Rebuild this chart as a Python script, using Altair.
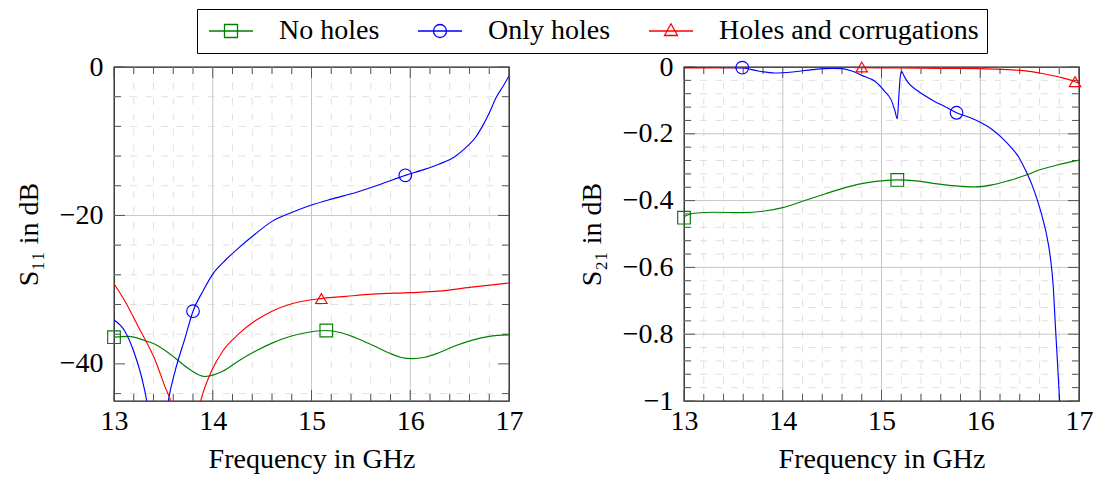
import altair as alt
import pandas as pd

FONT = "Liberation Serif"
FS = 28
SERIES = ["No holes", "Only holes", "Holes and corrugations"]
COLORS = ["#008000", "#0000ff", "#ff0000"]
MARKERS = ["square", "circle", "triangle-up"]
MARKER_SIZES = [160, 160, 130]
# legend symbols: a line with the marker drawn on it (unit = 10 px at size 400)
LEGEND_SHAPES = [
    "M-1,0H3.4M0.55,-0.65H1.85V0.65H0.55Z",
    "M-1,0H3.4M0.55,0A0.65,0.65,0,1,1,1.85,0A0.65,0.65,0,1,1,0.55,0Z",
    "M-1,0H3.4M1.2,-0.72L1.85,0.45H0.55Z",
]

# ---------------- S11 (left panel) ----------------
s11_green_x = [13.0, 13.15, 13.3, 13.42, 13.59, 13.75, 13.92, 14.1, 14.26, 14.43, 14.6, 14.78,
               14.94, 15.14, 15.3, 15.45, 15.62, 15.78, 15.9, 16.02, 16.15, 16.29, 16.45, 16.63,
               16.8, 17.0]
s11_green_y = [-36.4, -36.3, -36.8, -37.4, -38.9, -40.6, -41.7, -41.0, -39.6, -38.3, -37.2, -36.3,
               -35.8, -35.5, -35.8, -36.5, -37.5, -38.5, -39.1, -39.3, -39.1, -38.5, -37.6, -36.8,
               -36.3, -36.1]
s11_blue_x = [13.0, 13.11, 13.21, 13.28, 13.33, 13.38, 13.44, 13.5, 13.55, 13.62, 13.72, 13.8,
              13.9, 14.0, 14.13, 14.26, 14.43, 14.6, 14.8, 15.0, 15.2, 15.45, 15.7, 15.95, 16.12,
              16.29, 16.45, 16.56, 16.66, 16.73, 16.8, 16.87, 16.94, 17.0]
s11_blue_y = [-34.1, -35.6, -38.7, -41.8, -44.9, -50.0, -62.0, -50.0, -45.0, -40.9, -36.5, -32.9,
              -30.2, -27.9, -26.0, -24.4, -22.5, -20.8, -19.6, -18.6, -17.8, -16.9, -15.8, -14.6,
              -13.9, -13.1, -12.1, -10.9, -9.5, -8.0, -6.2, -4.1, -2.6, -1.2]
s11_red_x = [13.0, 13.1, 13.25, 13.42, 13.52, 13.57, 13.64, 13.72, 13.8, 13.88, 13.99, 14.1,
             14.26, 14.43, 14.6, 14.8, 15.1, 15.35, 15.62, 16.0, 16.29, 16.6, 17.0]
s11_red_y = [-29.2, -31.3, -35.1, -39.6, -43.2, -44.9, -50.0, -60.0, -50.0, -44.9, -40.9, -38.3,
             -36.0, -34.2, -32.9, -31.9, -31.2, -30.9, -30.6, -30.4, -30.2, -29.7, -29.1]
s11_mark_series = ["No holes", "No holes", "Only holes", "Only holes", "Holes and corrugations"]
s11_mark_x = [13.0, 15.15, 13.8, 15.95, 15.1]
s11_mark_y = [-36.4, -35.5, -32.9, -14.6, -31.2]

# ---------------- S21 (right panel) ----------------
s21_green_x = [13.0, 13.1, 13.3, 13.6, 13.8, 14.0, 14.2, 14.42, 14.6, 14.8, 15.0, 15.16, 15.35,
               15.54, 15.75, 15.95, 16.12, 16.28, 16.45, 16.62, 16.8, 17.0]
s21_green_y = [-0.448, -0.438, -0.435, -0.436, -0.432, -0.421, -0.402, -0.381, -0.364, -0.349,
               -0.341, -0.338, -0.341, -0.349, -0.356, -0.359, -0.353, -0.341, -0.325, -0.306,
               -0.292, -0.279]
s21_blue_x = [13.0, 13.2, 13.4, 13.59, 13.75, 13.92, 14.1, 14.3, 14.5, 14.6, 14.7, 14.8, 14.93,
              15.03, 15.1, 15.135, 15.16, 15.175, 15.19, 15.205, 15.23, 15.27, 15.37, 15.52,
              15.65, 15.76, 15.9, 16.01, 16.12, 16.22, 16.31, 16.39, 16.46, 16.52, 16.58, 16.62,
              16.67, 16.71, 16.74, 16.76, 16.785, 16.8, 16.83]
s21_blue_y = [-0.001, -0.001, -0.002, -0.003, -0.012, -0.018, -0.015, -0.008, -0.004, -0.005,
              -0.012, -0.025, -0.042, -0.072, -0.100, -0.130, -0.155, -0.090, -0.030, -0.014,
              -0.028, -0.047, -0.072, -0.100, -0.120, -0.137, -0.152, -0.167, -0.187, -0.212,
              -0.240, -0.270, -0.310, -0.350, -0.400, -0.440, -0.500, -0.570, -0.660, -0.770,
              -0.900, -0.980, -1.150]
s21_red_x = [13.0, 13.5, 14.0, 14.5, 14.8, 15.2, 15.6, 16.0, 16.28, 16.5, 16.62, 16.8, 16.96, 17.0]
s21_red_y = [-0.003, -0.002, -0.001, -0.001, -0.002, -0.003, -0.004, -0.005, -0.008, -0.013,
             -0.019, -0.030, -0.044, -0.049]
s21_mark_series = ["No holes", "No holes", "Only holes", "Only holes",
                   "Holes and corrugations", "Holes and corrugations"]
s21_mark_x = [13.0, 15.16, 13.59, 15.76, 14.8, 16.96]
s21_mark_y = [-0.451, -0.338, -0.002, -0.137, 0.0, -0.044]

# ---------------- axes / grid values ----------------
X_MAJOR = [13, 14, 15, 16, 17]
X_MINOR = [13.2, 13.4, 13.6, 13.8, 14.2, 14.4, 14.6, 14.8, 15.2, 15.4, 15.6, 15.8,
           16.2, 16.4, 16.6, 16.8]
S11_Y_MAJOR = [-40, -20, 0]
S11_Y_MINOR = [-44, -36, -32, -28, -24, -16, -12, -8, -4]
S21_Y_MAJOR = [-1.0, -0.8, -0.6, -0.4, -0.2, 0.0]
S21_Y_MINOR = [-0.96, -0.92, -0.88, -0.84, -0.76, -0.72, -0.68, -0.64, -0.56, -0.52, -0.48,
               -0.44, -0.36, -0.32, -0.28, -0.24, -0.16, -0.12, -0.08, -0.04]

W, H = 395, 334
MAJOR_GRID = "#c6c6c6"
MINOR_GRID = "#e0e0e0"
TICK_C = "#555555"
MAJ_LEN, MIN_LEN = 11, 7

xscale = alt.Scale(domain=[13, 17], nice=False, zero=False)
XAXIS = alt.Axis(values=X_MAJOR, title="Frequency in GHz", grid=False, ticks=False,
                 domain=False, labelPadding=6, titlePadding=10, format="~r",
                 labelFlush=False, labelOverlap=False)


def long_df(xs_list, ys_list):
    rows = []
    for name, xs, ys in zip(SERIES, xs_list, ys_list):
        for a, b in zip(xs, ys):
            rows.append({"series": name, "x": a, "y": b})
    return pd.DataFrame(rows)


def panel(lines, marks, ydomain, ymajor, yminor, ytitle, legend):
    yscale = alt.Scale(domain=ydomain, nice=False, zero=False)
    yaxis = alt.Axis(values=ymajor, title=ytitle, grid=False, ticks=False, domain=False,
                     labelPadding=11, titlePadding=16, format="~r", labelOverlap=False)

    def X(field):
        return alt.X(field, type="quantitative", scale=xscale, axis=XAXIS)

    def Y(field):
        return alt.Y(field, type="quantitative", scale=yscale, axis=yaxis)

    def xrules(vals, color, dash=None, y0=None, y1=None):
        kw = dict(color=color, strokeWidth=1)
        if dash:
            kw["strokeDash"] = dash
        enc = dict(x=X("x"))
        if y0 is not None:
            enc["y"] = alt.value(y0)
            enc["y2"] = alt.value(y1)
        return alt.Chart(pd.DataFrame({"x": vals})).mark_rule(**kw).encode(**enc)

    def yrules(vals, color, dash=None, x0=None, x1=None):
        kw = dict(color=color, strokeWidth=1)
        if dash:
            kw["strokeDash"] = dash
        enc = dict(y=Y("y"))
        if x0 is not None:
            enc["x"] = alt.value(x0)
            enc["x2"] = alt.value(x1)
        return alt.Chart(pd.DataFrame({"y": vals})).mark_rule(**kw).encode(**enc)

    layers = [
        xrules(X_MINOR, MINOR_GRID, dash=[7, 8.5]),
        yrules(yminor, MINOR_GRID, dash=[7, 8.5]),
        xrules(X_MAJOR[1:-1], MAJOR_GRID),
        yrules(ymajor[1:-1], MAJOR_GRID),
        # inward ticks on all four sides
        xrules(X_MINOR, TICK_C, y0=H, y1=H - MIN_LEN),
        xrules(X_MINOR, TICK_C, y0=0, y1=MIN_LEN),
        xrules(X_MAJOR, TICK_C, y0=H, y1=H - MAJ_LEN),
        xrules(X_MAJOR, TICK_C, y0=0, y1=MAJ_LEN),
        yrules(yminor, TICK_C, x0=0, x1=MIN_LEN),
        yrules(yminor, TICK_C, x0=W, x1=W - MIN_LEN),
        yrules(ymajor, TICK_C, x0=0, x1=MAJ_LEN),
        yrules(ymajor, TICK_C, x0=W, x1=W - MAJ_LEN),
    ]
    for name, col in zip(SERIES, COLORS):
        layers.append(
            alt.Chart(lines).transform_filter(alt.datum.series == name)
            .mark_line(clip=True, strokeWidth=1.15, interpolate="monotone", color=col)
            .encode(x=X("x"), y=Y("y"))
        )
    for name, col, shp, sz in zip(SERIES, COLORS, MARKERS, MARKER_SIZES):
        layers.append(
            alt.Chart(marks).transform_filter(alt.datum.series == name)
            .mark_point(filled=False, shape=shp, size=sz, strokeWidth=1.15, opacity=1, color=col)
            .encode(x=X("x"), y=Y("y"))
        )
    if legend:
        layers.append(
            alt.Chart(marks).transform_filter("false")
            .mark_point(filled=False, strokeWidth=1.3, opacity=1)
            .encode(x=X("x"), y=Y("y"),
                    color=alt.Color("series:N", scale=alt.Scale(domain=SERIES, range=COLORS),
                                    legend=alt.Legend(title=None)),
                    shape=alt.Shape("series:N", scale=alt.Scale(domain=SERIES, range=LEGEND_SHAPES),
                                    legend=alt.Legend(title=None)))
        )
    return alt.layer(*layers).properties(width=W, height=H)


s11_lines = long_df([s11_green_x, s11_blue_x, s11_red_x], [s11_green_y, s11_blue_y, s11_red_y])
s11_marks = pd.DataFrame({"series": s11_mark_series, "x": s11_mark_x, "y": s11_mark_y})
s21_lines = long_df([s21_green_x, s21_blue_x, s21_red_x], [s21_green_y, s21_blue_y, s21_red_y])
s21_marks = pd.DataFrame({"series": s21_mark_series, "x": s21_mark_x, "y": s21_mark_y})

left = panel(s11_lines, s11_marks, [-45, 0], S11_Y_MAJOR, S11_Y_MINOR, "S₁₁ in dB", True)
right = panel(s21_lines, s21_marks, [-1, 0], S21_Y_MAJOR, S21_Y_MINOR, "S₂₁ in dB", False)

chart = (
    alt.hconcat(left, right, spacing=53)
    .properties(padding={"left": 6, "top": 0, "right": 0, "bottom": 0})
    .configure_view(stroke="#1a1a1a", strokeWidth=1.3)
    .configure_axis(labelFont=FONT, labelFontSize=FS, labelColor="black", titleFont=FONT,
                    titleFontSize=FS, titleFontWeight="normal", titleColor="black")
    .configure_legend(orient="none", legendX=83, legendY=-58, direction="horizontal",
                      columns=3, strokeColor="black", strokeWidth=1, padding=8, cornerRadius=0,
                      labelFont=FONT, labelFontSize=FS, labelColor="black", labelLimit=0,
                      symbolSize=400, symbolStrokeWidth=1.3, labelOffset=46, columnPadding=34,
                      fillColor="white")
)

chart.save("out.html", embed_options={"renderer": "svg", "actions": False})
